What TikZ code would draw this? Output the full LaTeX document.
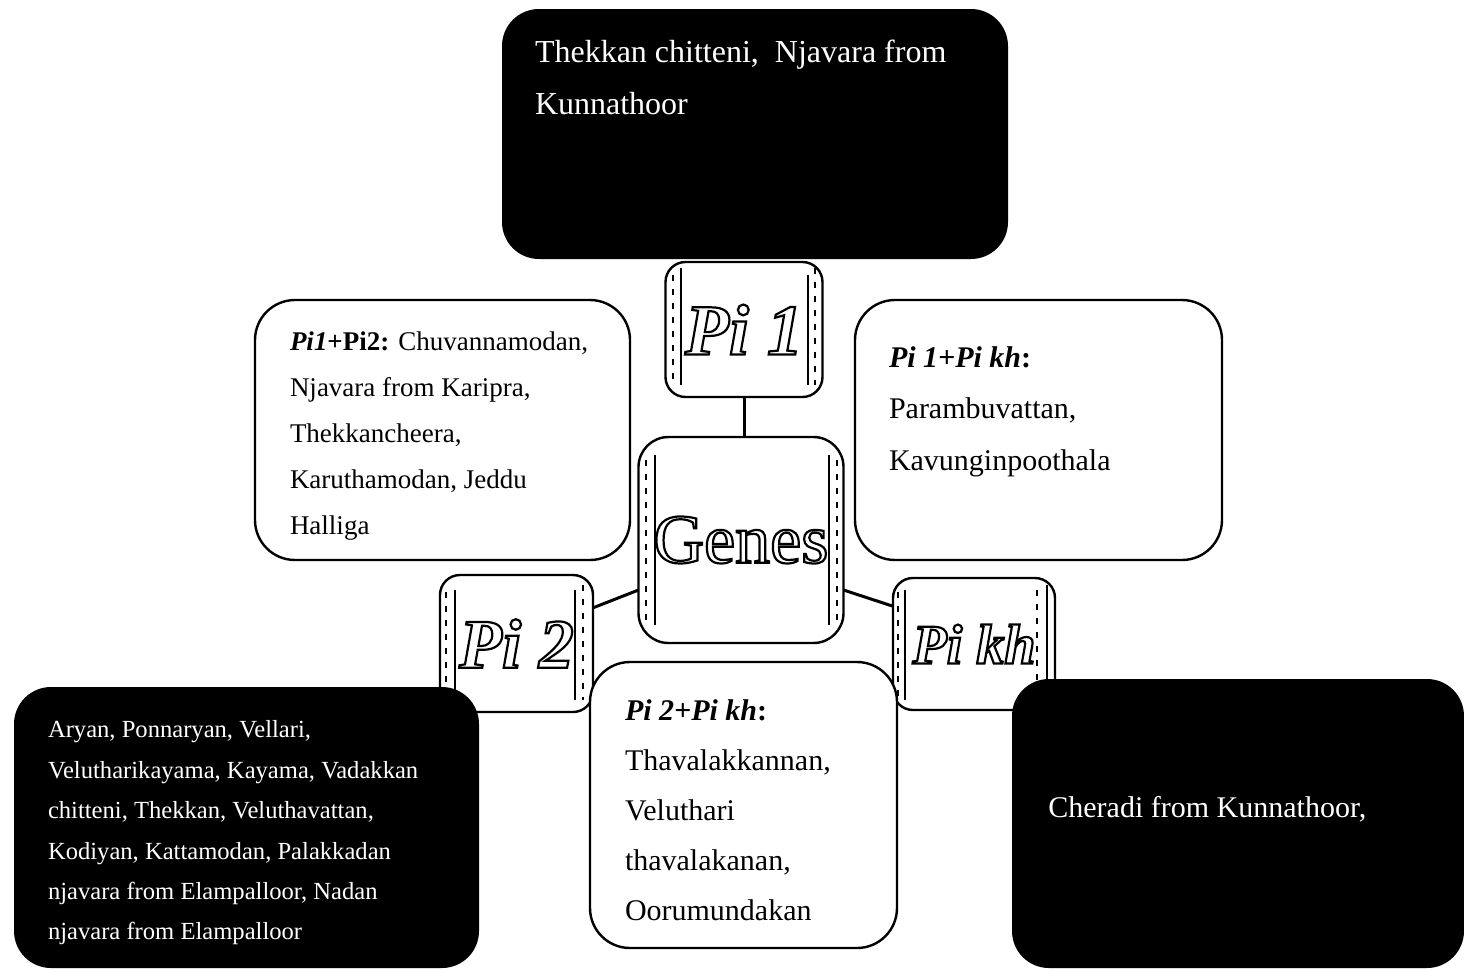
\documentclass[tikz,border=0pt]{standalone}
\usepackage{fontspec}
\setmainfont{Liberation Serif}
\newcommand{\outlinetext}[1]{\special{pdf:literal direct 2 Tr 1 g 0 G 1.1 w}#1\special{pdf:literal direct 0 Tr 0 g 0 G}}
\begin{document}
\begin{tikzpicture}[x=0.5pt,y=-0.5pt,
  wbox/.style={draw=black, line width=1.2pt, fill=white, rounded corners=20pt, inner sep=0pt, outer sep=0pt},
  bbox/.style={draw=black, fill=black, line width=1pt, rounded corners=18pt, inner sep=0pt, outer sep=0pt},
  pibox/.style={draw=black, line width=1.2pt, fill=white, rounded corners=10pt, inner sep=0pt, outer sep=0pt},
  pilabel/.style={font=\fontsize{36pt}{40pt}\selectfont\bfseries\itshape},
  txt/.style={anchor=north west, inner sep=0pt, outer sep=0pt, align=left},
  link/.style={line width=1.5pt},
  deco/.style={line width=0.6pt},
  decodash/.style={line width=0.6pt, dash pattern=on 3pt off 4pt}
]
\useasboundingbox (0,0) rectangle (1464,971);
\fill[white] (0,0) rectangle (1464,971);

% small label boxes
\node[pibox, pilabel, minimum width=78.5pt, minimum height=67.5pt] (p1) at (744,329.5) {\outlinetext{Pi 1}};
\node[pibox, pilabel, font=\fontsize{35pt}{40pt}\selectfont\bfseries\itshape, minimum width=76.5pt, minimum height=68.5pt] (p2) at (516.5,643.5) {\outlinetext{Pi 2}};
\node[pibox, pilabel, font=\fontsize{28pt}{32pt}\selectfont\bfseries\itshape, minimum width=81pt, minimum height=66pt] (pk) at (974,644) {\outlinetext{Pi kh}};
\node[pibox, rounded corners=15pt, font=\fontsize{35pt}{40pt}\selectfont, minimum width=102.5pt, minimum height=103pt] (g) at (741,540) {\outlinetext{Genes}};

% decorative inner lines
\draw[deco] (681,268) -- (681,385) (808,275) -- (808,385);
\draw[decodash] (673,275) -- (673,385) (815,268) -- (815,385);
\draw[deco] (455,590) -- (455,700) (575,590) -- (575,700);
\draw[decodash] (446,592) -- (446,700) (583,585) -- (583,700);
\draw[deco] (905,590) -- (905,700) (1047,585) -- (1047,700);
\draw[decodash] (898,592) -- (898,700) (1037,590) -- (1037,700);
\draw[deco] (655,455) -- (655,625) (829,455) -- (829,625);
\draw[decodash] (646,460) -- (646,625) (837,460) -- (837,625);

% connectors
\draw[link] (p1.south) -- (p1.south |- g.north);
\draw[link] (g.206) -- (p2.25);
\draw[link] (g.334) -- (pk.155);

% text boxes
\node[bbox, minimum width=252pt, minimum height=124pt] (top) at (755,134) {};
\node[wbox, minimum width=187.5pt, minimum height=130pt] (lb) at (442.5,430) {};
\node[wbox, minimum width=183.5pt, minimum height=130pt] (rb) at (1038.5,430) {};
\node[bbox, minimum width=231.5pt, minimum height=139.5pt] (bl) at (246.5,827.5) {};
\node[wbox, minimum width=153.5pt, minimum height=143pt] (mb) at (743.5,805) {};
\node[bbox, minimum width=225pt, minimum height=143.5pt] (br) at (1238,823.5) {};

% texts
\node[txt, text=white, font=\fontsize{16pt}{26pt}\selectfont] (toptxt) at (535,25.6)
  {\strut Thekkan chitteni,\ \ Njavara from\\ Kunnathoor};
\node[txt, font=\fontsize{13.5pt}{23pt}\selectfont] (lbtxt) at (290,317.8)
  {\strut\textbf{\textit{Pi1}+Pi2:} Chuvannamodan,\\ Njavara from Karipra,\\ Thekkancheera,\\ Karuthamodan, Jeddu\\ Halliga};
\node[txt, font=\fontsize{15pt}{25.75pt}\selectfont] (rbtxt) at (889,331)
  {\strut\textbf{\textit{Pi 1+Pi kh}:}\\ Parambuvattan,\\ Kavunginpoothala};
\node[txt, font=\fontsize{15pt}{25pt}\selectfont] (mbtxt) at (625,685)
  {\strut\textbf{\textit{Pi 2+Pi kh}:}\\ Thavalakkannan,\\ Veluthari\\ thavalakanan,\\ Oorumundakan};
\node[txt, text=white, font=\fontsize{12.3pt}{20.2pt}\selectfont] (bltxt) at (48,709.7)
  {\strut Aryan, Ponnaryan, Vellari,\\ Velutharikayama, Kayama, Vadakkan\\ chitteni, Thekkan, Veluthavattan,\\ Kodiyan, Kattamodan, Palakkadan\\ njavara from Elampalloor, Nadan\\ njavara from Elampalloor};
\node[anchor=base west, inner sep=0pt, text=white, font=\fontsize{15pt}{25pt}\selectfont] (brtxt) at (1048,817)
  {Cheradi from Kunnathoor,};
\end{tikzpicture}
\end{document}
